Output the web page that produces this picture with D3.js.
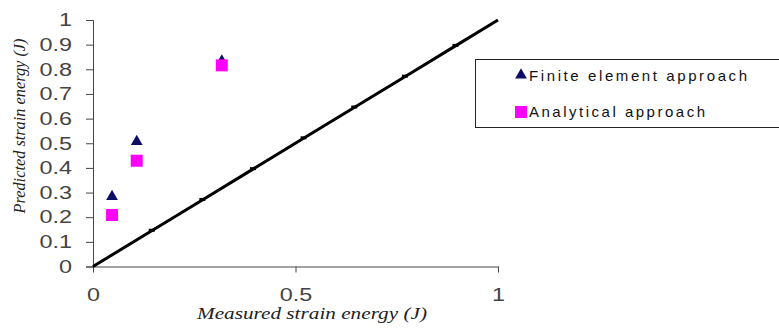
<!DOCTYPE html>
<html>
<head>
<meta charset="utf-8">
<script src="https://cdn.jsdelivr.net/npm/d3@7"></script>
<style>
  body { margin: 0; background: #fff; }
  svg { display: block; }
</style>
</head>
<body>
<svg id="chart"></svg>
<script>
// values
var feX = [0.047, 0.108, 0.318];
var feY = [0.284, 0.507, 0.833];
var anX = [0.047, 0.108, 0.318];
var anY = [0.209, 0.429, 0.816];
var lineX = [0, 0.145, 0.27, 0.395, 0.52, 0.645, 0.77, 0.895, 1];
var xTicks = [0, 0.5, 1];
var yTicks = [0, 0.1, 0.2, 0.3, 0.4, 0.5, 0.6, 0.7, 0.8, 0.9, 1];
var seriesNames = ["Finite element approach", "Analytical approach"];

var width = 779, height = 329;

var chart = d3.select("#chart").attr("width", width).attr("height", height);

var xscale = d3.scaleLinear().domain([0, 1]).range([93, 498]);
var yscale = d3.scaleLinear().domain([0, 1]).range([266.5, 20]);

// tick labels in the picture are wide: stretch them (arial digit = .556em, dot = .278em)
function stretch(sel, size, k) {
  sel.each(function() {
    var s = d3.select(this).text();
    var w = 0;
    for (var i = 0; i < s.length; i++) w += s[i] === "." ? 0.278 : 0.556;
    d3.select(this).attr("textLength", w * size * k).attr("lengthAdjust", "spacingAndGlyphs");
  });
}

// y axis
var yAxis = chart.append("g")
    .attr("transform", "translate(93,0)")
    .call(d3.axisLeft(yscale).tickValues(yTicks).tickSize(7).tickPadding(14)
      .tickFormat(function(d) { return d === 0 || d === 1 ? d : d3.format(".1f")(d); }));
yAxis.select(".domain").attr("stroke", "#444");
yAxis.selectAll(".tick line").attr("stroke", "#444");
yAxis.selectAll("text").attr("font-family", "Liberation Sans, Arial, sans-serif")
    .attr("font-size", 18).attr("fill", "#444").call(stretch, 18, 1.3);

// x axis
var xAxis = chart.append("g")
    .attr("transform", "translate(0,266.5)")
    .call(d3.axisBottom(xscale).tickValues(xTicks).tickSize(6).tickSizeOuter(0).tickPadding(16)
      .tickFormat(function(d) { return d; }));
xAxis.select(".domain").attr("stroke", "#444");
xAxis.selectAll(".tick line").attr("stroke", "#444");
xAxis.selectAll("text").attr("font-family", "Liberation Sans, Arial, sans-serif")
    .attr("font-size", 18).attr("fill", "#444").call(stretch, 18, 1.3);

// axis titles
chart.append("text")
    .attr("x", 312).attr("y", 319)
    .attr("text-anchor", "middle")
    .attr("font-family", "Liberation Serif, Times New Roman, serif")
    .attr("font-style", "italic").attr("font-size", 17).attr("fill", "#222")
    .attr("textLength", 230).attr("lengthAdjust", "spacingAndGlyphs")
    .text("Measured strain energy (J)");

chart.append("text")
    .attr("transform", "translate(25,126) rotate(-90)")
    .attr("text-anchor", "middle")
    .attr("font-family", "Liberation Serif, Times New Roman, serif")
    .attr("font-style", "italic").attr("font-size", 16).attr("fill", "#222")
    .attr("textLength", 175).attr("lengthAdjust", "spacingAndGlyphs")
    .text("Predicted strain energy (J)");

// 1:1 line
var line = d3.line()
    .x(function(d) { return xscale(d); })
    .y(function(d) { return yscale(d); });

chart.append("path")
    .datum(lineX)
    .attr("d", line)
    .attr("fill", "none")
    .attr("stroke", "#000")
    .attr("stroke-width", 3);

chart.selectAll(".dash").data(lineX.slice(1, -1)).enter()
  .append("rect")
    .attr("class", "dash")
    .attr("x", function(d) { return xscale(d) - 3; })
    .attr("y", function(d) { return yscale(d) - 2; })
    .attr("width", 6).attr("height", 3)
    .attr("fill", "#000");

// markers
var tri = d3.symbol().type(d3.symbolTriangle).size(60);

chart.selectAll(".fe").data(feX).enter()
  .append("path")
    .attr("class", "fe")
    .attr("d", tri)
    .attr("transform", function(d, i) { return "translate(" + xscale(d) + "," + yscale(feY[i]) + ")"; })
    .attr("fill", "#0d0d66");

chart.selectAll(".an").data(anX).enter()
  .append("rect")
    .attr("class", "an")
    .attr("x", function(d) { return xscale(d) - 6; })
    .attr("y", function(d, i) { return yscale(anY[i]) - 6; })
    .attr("width", 12).attr("height", 12)
    .attr("fill", "#ff00ff");

// legend
var legend = chart.append("g");
legend.append("rect")
    .attr("x", 475.5).attr("y", 59.5)
    .attr("width", 310).attr("height", 68)
    .attr("fill", "none").attr("stroke", "#222");

legend.append("path")
    .attr("d", tri)
    .attr("transform", "translate(521,75)")
    .attr("fill", "#0d0d66");
legend.append("rect")
    .attr("x", 515).attr("y", 106).attr("width", 12).attr("height", 12)
    .attr("fill", "#ff00ff");

legend.selectAll(".leg").data(seriesNames).enter()
  .append("text")
    .attr("class", "leg")
    .attr("x", 529)
    .attr("y", function(d, i) { return i === 0 ? 81 : 117; })
    .attr("font-family", "Liberation Sans, Arial, sans-serif")
    .attr("font-size", 15).attr("fill", "#111")
    .attr("textLength", function(d, i) { return i === 0 ? 218 : 176; })
    .attr("lengthAdjust", "spacing")
    .text(function(d) { return d; });
</script>
</body>
</html>
